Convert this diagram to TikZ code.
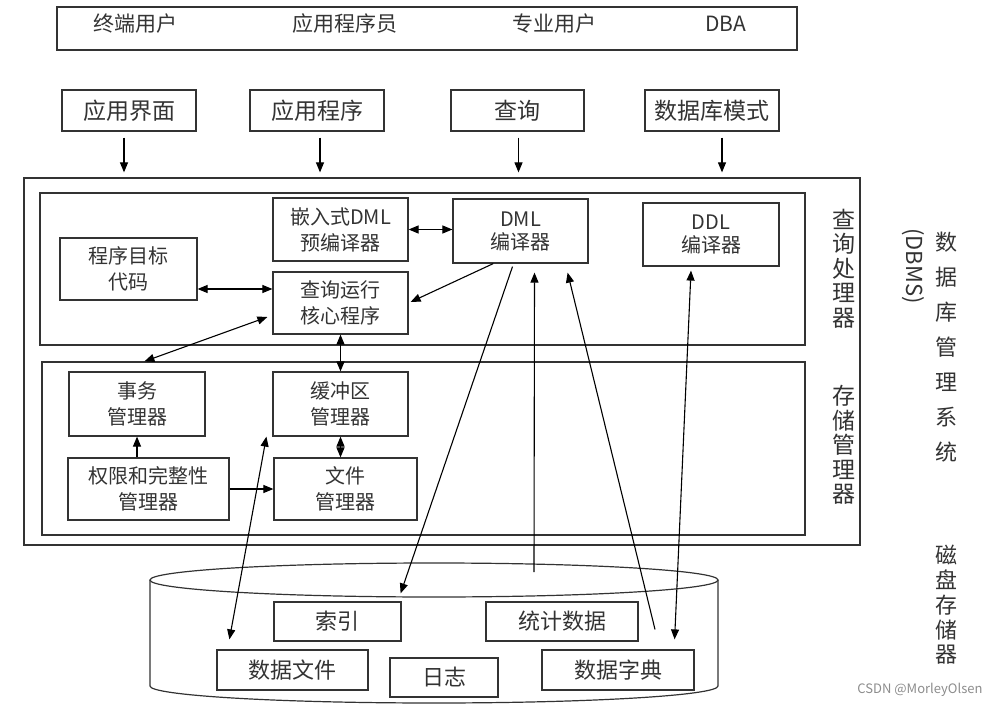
\documentclass[tikz,border=0pt]{standalone}
\usepackage{fontspec}
\setmainfont{Noto Sans CJK SC}
\usepackage{tikz}
\usetikzlibrary{arrows.meta,calc}
\definecolor{ink}{HTML}{333333}
\definecolor{wmark}{HTML}{8C8C8C}
\tikzset{
  box/.style 2 args = {rectangle, draw=ink, line width=1.2pt, inner sep=0pt, align=center,
                       text=ink, minimum width=#1pt, minimum height=#2pt, font=\fontsize{20}{26}\selectfont},
  entry/.style      = {box={#1}{41}, font=\fontsize{23}{26}\selectfont},
  disk/.style       = {box={#1}{39}, font=\fontsize{22}{26}\selectfont},
  frame/.style 2 args = {rectangle, draw=ink, line width=1.2pt, minimum width=#1pt, minimum height=#2pt},
  txt/.style        = {text=ink, font=\fontsize{21}{24}\selectfont},
  side/.style       = {text=ink, align=center, font=\fontsize{23}{24.6}\selectfont},
  flow/.style       = {-{Triangle[length=10pt,width=8pt]}, line width=1.1pt},
  both/.style       = {{Triangle[length=10pt,width=8pt]}-{Triangle[length=10pt,width=8pt]}, line width=1.1pt},
}

\begin{document}
\begin{tikzpicture}[x=1pt,y=-1pt]
  \useasboundingbox (0,0) rectangle (993,711);

  % users
  \node[frame={740}{43}] (users) at (427,28.5) {};
  \node[txt] (enduser) at (135,24) {终端用户};
  \node[txt] (coder) at (345,24) {应用程序员};
  \node[txt] (expert) at (554,24) {专业用户};
  \node[txt] (dba) at (726,24) {DBA};

  % entries
  \node[entry=134] (ui) at (129,110.5) {应用界面};
  \node[entry=134] (app) at (317,110.5) {应用程序};
  \node[entry=133] (query) at (517.5,110.5) {查询};
  \node[entry=134] (schema) at (712,110.5) {数据库模式};

  % DBMS
  \node[frame={836}{367}] (dbms) at (442,361.5) {};
  \node[frame={765}{152}] (qp) at (422.5,269) {};
  \node[frame={763}{173}] (sm) at (423.5,448.5) {};

  \node[box={135}{63}] (emb) at (340.5,229.5) {嵌入式DML\\预编译器};
  \node[box={135}{64}] (dml) at (520.5,231) {DML\\[-3pt]编译器};
  \node[box={136}{63}] (ddl) at (711,234.5) {DDL\\[-3pt]编译器};
  \node[box={137}{62}] (obj) at (128.5,269) {程序目标\\代码};
  \node[box={135}{62}] (core) at (340.5,303) {查询运行\\核心程序};

  \node[box={136}{64}] (tx) at (137,404) {事务\\管理器};
  \node[box={135}{64}] (buf) at (340.5,404) {缓冲区\\管理器};
  \node[box={161}{62}] (auth) at (148.5,489) {权限和完整性\\管理器};
  \node[box={143}{62}] (file) at (345.5,489) {文件\\管理器};

  \node[side] (qplbl) at (844,268.5) {查\\询\\处\\理\\器};
  \node[side] (smlbl) at (844,445) {存\\储\\管\\理\\器};
  \node[side, font=\fontsize{22}{35}\selectfont] (dbmslbl) at (946,347.5) {数\\据\\库\\管\\理\\系\\统};
  \node[side, font=\fontsize{22}{24}\selectfont, rotate=-90] (dbmsen) at (913,266) {(DBMS)};

  % disk
  \draw[ink, line width=1.2pt] (150,580) -- (150,686)
    arc[start angle=180, end angle=0, x radius=284, y radius=17] -- (718,580);
  \draw[ink, line width=1.2pt] (434,580) ellipse [x radius=284, y radius=17];
  \coordinate (top) at (434,580);

  \node[disk=127] (idx) at (337.5,621.5) {索引};
  \node[disk=152] (stat) at (562,621.5) {统计数据};
  \node[disk=151, minimum height=40pt] (dfile) at (292.5,670) {数据文件};
  \node[disk=108] (log) at (444,677.5) {日志};
  \node[disk=152, minimum height=40pt] (dict) at (618,670) {数据字典};
  \node[side, font=\fontsize{22}{24.8}\selectfont] (disklbl) at (946,605) {磁\\盘\\存\\储\\器};

  \node[font=\fontsize{13}{13}\selectfont, text=wmark, anchor=east] (mark) at (986,690) {CSDN @MorleyOlsen};

  % connectors
  \foreach \n/\dx in {ui/-5, app/3, query/1, schema/10}
    \draw[flow] ($(\n.south)+(\dx,6)$) -- ($(\n.south |- dbms.north)+(\dx,-5)$);

  \draw[both] (emb.east) -- (emb.east -| dml.west);
  \draw[both] ($(obj.east)+(0,20)$) -- ($(obj.east -| core.west)+(0,20)$);
  \draw[flow] ($(dml.south west)!0.3!(dml.south east)$) -- ($(core.east)+(2,-1)$);
  \draw[both] ($(core.west)+(-5,14)$) -- ($(sm.north west)+(103,0)$);
  \draw[both] (core.south) -- (buf.north);
  \draw[flow] (tx.south |- auth.north) -- (tx.south);
  \draw[flow] (auth.east) -- (auth.east -| file.west);
  \draw[both] (buf.south) -- (buf.south |- file.north);
  \draw[both] ($(dfile.north west)+(13,-10)$) -- ($(buf.south west)+(-6,0)$);
  \draw[flow] ($(dml.south)+(-8,3)$) -- ($(idx.north east)+(-1,-8)$);
  \draw[flow] ($(top)+(100,-8)$) -- ($(dml.south)+(14,9)$);
  \draw[flow] ($(dict.north)+(37,-20)$) -- ($(dml.south east)+(-21,9)$);
  \draw[both] ($(dict.north east)+(-20,-10)$) -- ($(ddl.south)+(-20,4)$);
\end{tikzpicture}
\end{document}
